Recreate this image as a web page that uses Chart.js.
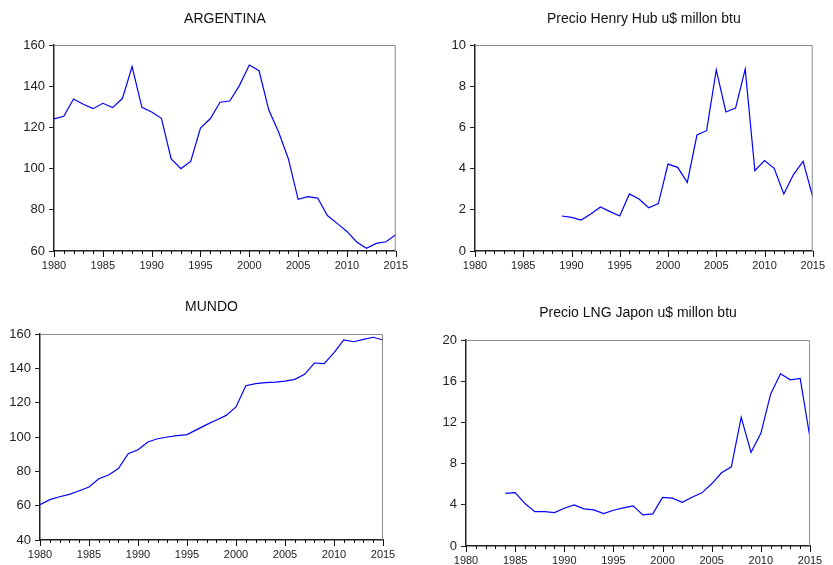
<!DOCTYPE html>
<html>
<head>
<meta charset="utf-8">
<script src="https://cdn.jsdelivr.net/npm/chart.js@4.4.1/dist/chart.umd.min.js"></script>
<style>
  body { margin: 0; background: #fff; }
  #wrap { position: relative; width: 833px; height: 565px; }
  .panel { position: absolute; }
</style>
</head>
<body>
<div id="wrap">
  <div class="panel" style="left:0;top:0"><canvas id="c1" width="416" height="282"></canvas></div>
  <div class="panel" style="left:416px;top:0"><canvas id="c2" width="417" height="282"></canvas></div>
  <div class="panel" style="left:0;top:282px"><canvas id="c3" width="416" height="283"></canvas></div>
  <div class="panel" style="left:416px;top:282px"><canvas id="c4" width="417" height="283"></canvas></div>
</div>
<script>
const years = [1980, 1981, 1982, 1983, 1984, 1985, 1986, 1987, 1988, 1989,
  1990, 1991, 1992, 1993, 1994, 1995, 1996, 1997, 1998, 1999,
  2000, 2001, 2002, 2003, 2004, 2005, 2006, 2007, 2008, 2009,
  2010, 2011, 2012, 2013, 2014, 2015];

const argentina = [124.1, 125.4, 133.8, 131.2, 129.1, 131.7, 129.6, 134.0, 149.5, 129.7,
  127.5, 124.4, 104.7, 100.0, 103.5, 119.7, 124.2, 132.2, 132.8, 140.4,
  150.3, 147.5, 128.4, 117.8, 104.8, 85.1, 86.4, 85.7, 77.2, 73.4,
  69.5, 64.4, 61.3, 63.7, 64.5, 67.9];

const henryHub = [null, null, null, null, null, null, null, null, null, 1.70,
  1.63, 1.50, 1.80, 2.14, 1.91, 1.70, 2.77, 2.52, 2.10, 2.30,
  4.22, 4.06, 3.33, 5.63, 5.84, 8.79, 6.75, 6.94, 8.83, 3.90,
  4.39, 4.01, 2.77, 3.71, 4.35, 2.62];

const mundo = [60.6, 63.5, 65.2, 66.6, 68.7, 70.9, 75.7, 77.9, 81.6, 90.3,
  92.6, 97.1, 99.0, 100.0, 100.8, 101.4, 104.3, 107.2, 109.9, 112.6,
  117.5, 129.9, 131.1, 131.7, 132.0, 132.6, 133.6, 136.5, 143.1, 142.7,
  149.1, 156.5, 155.5, 156.9, 158.1, 156.5];

const lngJapon = [null, null, null, null, 5.10, 5.19, 4.12, 3.34, 3.34, 3.25,
  3.67, 3.99, 3.60, 3.51, 3.15, 3.47, 3.70, 3.90, 3.02, 3.12,
  4.71, 4.64, 4.25, 4.74, 5.16, 6.04, 7.11, 7.69, 12.5, 9.09,
  10.94, 14.77, 16.72, 16.14, 16.27, 10.49];

const font = "'Liberation Sans', Arial, sans-serif";

// title centred over the plot area, grey frame on top/right, yearly ticks under the x axis
const framePlugin = {
  id: 'frame',
  afterDraw(chart, args, opts) {
    const { ctx, chartArea: a, scales } = chart;
    ctx.save();
    ctx.fillStyle = '#111';
    ctx.font = '14px ' + font;
    ctx.textAlign = 'center';
    ctx.textBaseline = 'middle';
    ctx.fillText(opts.title, (a.left + a.right) / 2, opts.titleY);

    ctx.strokeStyle = '#8c8c8c';
    ctx.lineWidth = 1;
    ctx.beginPath();
    ctx.moveTo(a.left, a.top + 0.5);
    ctx.lineTo(a.right - 0.5, a.top + 0.5);
    ctx.lineTo(a.right - 0.5, a.bottom);
    ctx.stroke();
    ctx.strokeStyle = '#111';
    ctx.beginPath();
    years.forEach((yr) => {
      const px = Math.round(scales.x.getPixelForValue(yr)) + 0.5;
      ctx.moveTo(px, a.bottom);
      ctx.lineTo(px, a.bottom + (yr % 5 === 0 ? 6 : 3));
    });
    ctx.stroke();
    ctx.restore();
  }
};

const makeChart = (id, title, titleY, values, yMin, yMax, yStep, pad, xHeight) => {
  const ctx = document.getElementById(id).getContext('2d');
  return new Chart(ctx, {
    type: 'line',
    data: {
      datasets: [{
        data: years.map((yr, i) => ({ x: yr, y: values[i] })),
        borderColor: '#0000ff',
        borderWidth: 1.2,
        pointRadius: 0,
        tension: 0,
        fill: false,
      }],
    },
    options: {
      responsive: false,
      animation: false,
      layout: { padding: pad },
      plugins: {
        legend: { display: false },
        tooltip: { enabled: false },
        frame: { title: title, titleY: titleY },
      },
      scales: {
        x: {
          type: 'linear',
          min: 1980,
          max: 2015,
          afterFit: (s) => { s.height = xHeight; },
          grid: { drawOnChartArea: false, drawTicks: false },
          border: { color: '#222', width: 1.5 },
          ticks: {
            stepSize: 5,
            padding: 8,
            maxRotation: 0,
            color: '#222',
            font: { family: font, size: 11 },
            callback: (v) => String(v),
          },
        },
        y: {
          min: yMin,
          max: yMax,
          afterFit: (s) => { s.width = 40; },
          grid: { drawOnChartArea: false, tickLength: 5, tickColor: '#222' },
          border: { color: '#222', width: 1.5 },
          ticks: {
            stepSize: yStep,
            padding: 4,
            color: '#222',
            font: { family: font, size: 13 },
          },
        },
      },
    },
    plugins: [framePlugin],
  });
};

makeChart('c1', 'ARGENTINA', 19, argentina, 60, 160, 20,
  { left: 14, right: 18, top: 45, bottom: 7 }, 24);
makeChart('c2', 'Precio Henry Hub u$ millon btu', 19, henryHub, 0, 10, 2,
  { left: 19, right: 14, top: 45, bottom: 7 }, 24);
makeChart('c3', 'MUNDO', 25, mundo, 40, 160, 20,
  { left: 0, right: 33, top: 52, bottom: 1 }, 24);
makeChart('c4', 'Precio LNG Japon u$ millon btu', 31, lngJapon, 0, 20, 4,
  { left: 10, right: 23, top: 58, bottom: 0 }, 19);
</script>
</body>
</html>
